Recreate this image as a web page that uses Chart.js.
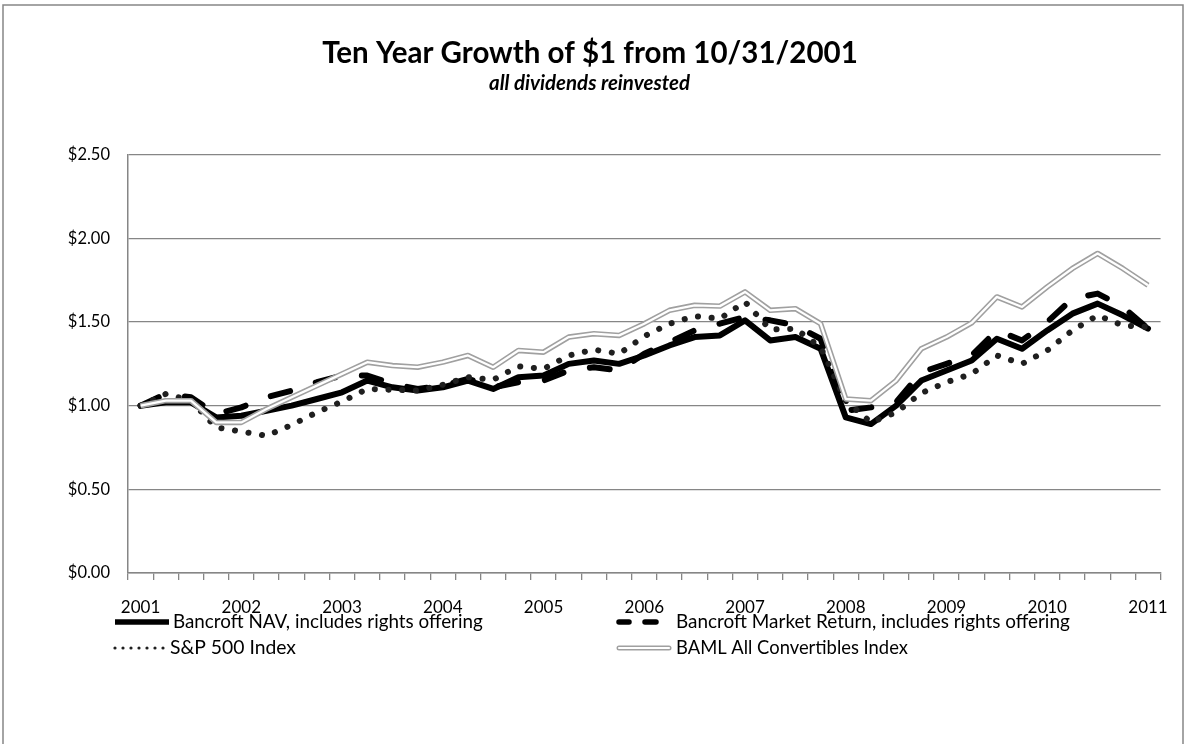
<!DOCTYPE html>
<html>
<head>
<meta charset="utf-8">
<script src="https://cdn.jsdelivr.net/npm/chart.js@4.4.1/dist/chart.umd.min.js"></script>
<style>
  html, body { margin: 0; padding: 0; background: #fff; }
</style>
</head>
<body>
<canvas id="growth-chart" width="1185" height="744"></canvas>
<script>
// quarter ends, starting 10/31/2001
const quarters = [
    '10/2001', '1/2002', '4/2002', '7/2002', '10/2002', '1/2003', '4/2003', '7/2003',
    '10/2003', '1/2004', '4/2004', '7/2004', '10/2004', '1/2005', '4/2005', '7/2005',
    '10/2005', '1/2006', '4/2006', '7/2006', '10/2006', '1/2007', '4/2007', '7/2007',
    '10/2007', '1/2008', '4/2008', '7/2008', '10/2008', '1/2009', '4/2009', '7/2009',
    '10/2009', '1/2010', '4/2010', '7/2010', '10/2010', '1/2011', '4/2011', '7/2011',
    '10/2011'
];

const navValues = [1.00, 1.02, 1.02, 0.93, 0.94, 0.97, 1.00, 1.04, 1.08, 1.15, 1.11, 1.09, 1.11, 1.15,
    1.10, 1.17, 1.18, 1.25, 1.27, 1.25, 1.30, 1.36, 1.41, 1.42, 1.51, 1.39, 1.41, 1.34, 0.93, 0.89,
    1.00, 1.15, 1.21, 1.27, 1.40, 1.34, 1.45, 1.55, 1.61, 1.54, 1.46];

const marketValues = [1.00, 1.07, 1.05, 0.95, 0.99, 1.05, 1.09, 1.14, 1.18, 1.18, 1.13, 1.10, 1.12, 1.16,
    1.11, 1.14, 1.15, 1.21, 1.23, 1.21, 1.31, 1.38, 1.45, 1.49, 1.53, 1.51, 1.48, 1.40, 0.97, 0.99,
    1.02, 1.20, 1.25, 1.30, 1.45, 1.39, 1.50, 1.64, 1.67, 1.59, 1.46];

const spValues = [1.00, 1.07, 1.03, 0.87, 0.845, 0.82, 0.885, 0.96, 1.025, 1.10, 1.095, 1.09, 1.125, 1.17,
    1.155, 1.235, 1.22, 1.30, 1.335, 1.31, 1.415, 1.49, 1.535, 1.52, 1.62, 1.455, 1.46, 1.35, 1.03, 0.90,
    0.96, 1.075, 1.14, 1.19, 1.30, 1.25, 1.33, 1.45, 1.54, 1.48, 1.47];

const bamlValues = [1.00, 1.03, 1.03, 0.90, 0.90, 0.98, 1.05, 1.12, 1.19, 1.26, 1.24, 1.23, 1.26, 1.30,
    1.23, 1.33, 1.32, 1.41, 1.43, 1.42, 1.49, 1.57, 1.60, 1.595, 1.68, 1.57, 1.58, 1.49, 1.04, 1.03,
    1.15, 1.34, 1.41, 1.495, 1.65, 1.59, 1.71, 1.82, 1.91, 1.82, 1.72];

const seriesNames = [
    'Bancroft NAV, includes rights offering',
    'Bancroft Market Return, includes rights offering',
    'S&P 500 Index',
    'BAML All Convertibles Index'
];

const yMin = 0, yMax = 2.5, yStep = 0.5;

const titleText = 'Ten Year Growth of $1 from 10/31/2001';
const subtitleText = 'all dividends reinvested';

const FONT = 'Lato, "Open Sans", sans-serif';
const GRAY = '#868686';

// pick a font size so the text covers the wanted width
function fitSize(text, style, width) {
    const c = document.createElement('canvas').getContext('2d');
    c.font = style + ' 100px ' + FONT;
    return 100 * width / c.measureText(text).width;
}

function drawText(ctx, text, style, width, x, y, align) {
    const size = fitSize(text, style, width);
    ctx.font = style + ' ' + size + 'px ' + FONT;
    ctx.textAlign = align;
    ctx.textBaseline = 'alphabetic';
    ctx.fillStyle = '#000';
    ctx.fillText(text, x, y);
}

// frame, titles and the two-column legend
const decorations = {
    id: 'decorations',
    beforeDraw(chart) {
        const ctx = chart.ctx;
        ctx.save();
        ctx.fillStyle = '#fff';
        ctx.fillRect(0, 0, chart.width, chart.height);
        ctx.strokeStyle = GRAY;
        ctx.lineWidth = 1.5;
        ctx.strokeRect(3, 5, 1180, 780);
        ctx.restore();
    },
    afterDraw(chart) {
        const ctx = chart.ctx;
        ctx.save();
        drawText(ctx, titleText, 'bold', 536, 590, 63, 'center');
        drawText(ctx, subtitleText, 'italic bold', 201, 589.5, 90, 'center');

        // legend samples
        ctx.strokeStyle = '#000';
        ctx.lineWidth = 5.5;
        ctx.lineCap = 'butt';
        ctx.beginPath(); ctx.moveTo(115, 622); ctx.lineTo(169, 622); ctx.stroke();

        ctx.lineCap = 'round';
        ctx.beginPath();
        ctx.moveTo(619, 622); ctx.lineTo(629, 622);
        ctx.moveTo(645, 622); ctx.lineTo(656, 622);
        ctx.stroke();

        ctx.fillStyle = '#1f1f1f';
        for (let x = 115; x <= 164; x += 8) {
            ctx.beginPath(); ctx.arc(x, 648, 1.6, 0, Math.PI * 2); ctx.fill();
        }

        ctx.strokeStyle = '#a0a0a0';
        ctx.lineWidth = 5;
        ctx.beginPath(); ctx.moveTo(619, 648); ctx.lineTo(669, 648); ctx.stroke();
        ctx.strokeStyle = '#fff';
        ctx.lineWidth = 2.2;
        ctx.beginPath(); ctx.moveTo(619, 648); ctx.lineTo(669, 648); ctx.stroke();

        drawText(ctx, seriesNames[0], 'normal', 310, 173, 628, 'left');
        drawText(ctx, seriesNames[1], 'normal', 394, 676, 628, 'left');
        drawText(ctx, seriesNames[2], 'normal', 126, 170, 654, 'left');
        drawText(ctx, seriesNames[3], 'normal', 232, 676, 654, 'left');
        ctx.restore();
    }
};

const ctx = document.getElementById('growth-chart');

new Chart(ctx, {
    type: 'line',
    data: {
        labels: quarters,
        datasets: [
            {
                label: seriesNames[0],
                data: navValues,
                borderColor: '#000',
                borderWidth: 6,
                borderCapStyle: 'round',
                order: 4
            },
            {
                label: seriesNames[1],
                data: marketValues,
                borderColor: '#000',
                borderWidth: 6,
                borderDash: [20, 27],
                borderCapStyle: 'round',
                order: 3
            },
            {
                label: seriesNames[2],
                data: spValues,
                borderColor: '#1f1f1f',
                borderWidth: 6,
                borderDash: [0.1, 13.6],
                borderCapStyle: 'round',
                order: 2
            },
            {
                label: seriesNames[3],
                data: bamlValues,
                borderColor: '#a0a0a0',
                borderWidth: 5.5,
                order: 1
            },
            {
                // white core of the double line
                label: seriesNames[3] + ' core',
                data: bamlValues,
                borderColor: '#fff',
                borderWidth: 2.3,
                order: 0
            }
        ]
    },
    options: {
        responsive: false,
        animation: false,
        devicePixelRatio: 1,
        layout: {
            padding: { top: 154.7, right: 24, bottom: 121, left: 0 }
        },
        elements: {
            point: { radius: 0 },
            line: { tension: 0, borderJoinStyle: 'round' }
        },
        plugins: {
            legend: { display: false },
            tooltip: { enabled: false }
        },
        scales: {
            x: {
                type: 'category',
                offset: true,
                grid: {
                    offset: true,
                    drawOnChartArea: false,
                    drawTicks: true,
                    tickLength: 7,
                    color: GRAY,
                    lineWidth: 1.3
                },
                border: { color: GRAY, width: 1.5 },
                ticks: {
                    autoSkip: false,
                    maxRotation: 0,
                    minRotation: 0,
                    padding: 17,
                    color: '#000',
                    font: { family: FONT, size: 17 },
                    callback: function(value, index) {
                        const q = quarters[index];
                        return q.indexOf('10/') === 0 ? q.slice(3) : '';
                    }
                },
                afterFit: function(scale) { scale.height = 50; }
            },
            y: {
                min: yMin,
                max: yMax,
                grid: {
                    color: GRAY,
                    lineWidth: 1.3,
                    drawTicks: false
                },
                border: { color: GRAY, width: 1.5 },
                ticks: {
                    stepSize: yStep,
                    padding: 18,
                    color: '#000',
                    font: { family: FONT, size: 16.5 },
                    callback: function(value) { return '$' + value.toFixed(2); }
                },
                afterFit: function(scale) { scale.width = 128; }
            }
        }
    },
    plugins: [decorations]
});
</script>
</body>
</html>
